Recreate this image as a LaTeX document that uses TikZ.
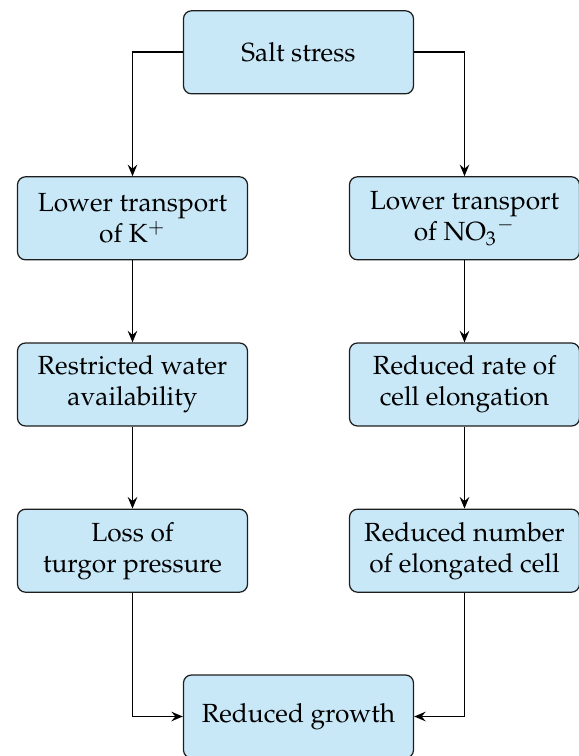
\documentclass[tikz,border=0pt]{standalone}
\usepackage[T1]{fontenc}
\usepackage{mathpazo}
\usetikzlibrary{arrows.meta}
\definecolor{boxfill}{RGB}{200,232,248}
\definecolor{boxline}{RGB}{30,30,30}
\tikzset{
  flowbox/.style={draw=boxline, line width=0.5pt, fill=boxfill, rounded corners=3.2pt,
    minimum width=92pt, minimum height=33.2pt, align=center, inner sep=2pt,
    font=\fontsize{10.5}{12.4}\selectfont},
  flowarrow/.style={line width=0.75pt, -{Stealth[length=4.6pt,width=3.8pt,inset=1.6pt]}}
}
\begin{document}
\begin{tikzpicture}[x=0.4pt,y=-0.4pt]
\useasboundingbox (0,0) rectangle (579,756);
\node[flowbox] (top) at (298.5,52.3) {Salt stress};
\node[flowbox] (l1) at (132.5,218.3) {Lower transport\\of K$^+$};
\node[flowbox] (r1) at (464.5,218.3) {Lower transport\\of NO$_3{}^-$};
\node[flowbox] (l2) at (132.5,384.5) {Restricted water\\availability};
\node[flowbox] (r2) at (464.5,384.5) {Reduced rate of\\cell elongation};
\node[flowbox] (l3) at (132.5,550.7) {Loss of\\turgor pressure};
\node[flowbox] (r3) at (464.5,550.7) {Reduced number\\of elongated cell};
\node[flowbox] (bot) at (298.5,716.5) {Reduced growth};
\draw[flowarrow] (top.west) -| (l1.north);
\draw[flowarrow] (top.east) -| (r1.north);
\draw[flowarrow] (l1) -- (l2);
\draw[flowarrow] (l2) -- (l3);
\draw[flowarrow] (r1) -- (r2);
\draw[flowarrow] (r2) -- (r3);
\draw[flowarrow] (l3.south) |- (bot.west);
\draw[flowarrow] (r3.south) |- (bot.east);
\end{tikzpicture}
\end{document}
